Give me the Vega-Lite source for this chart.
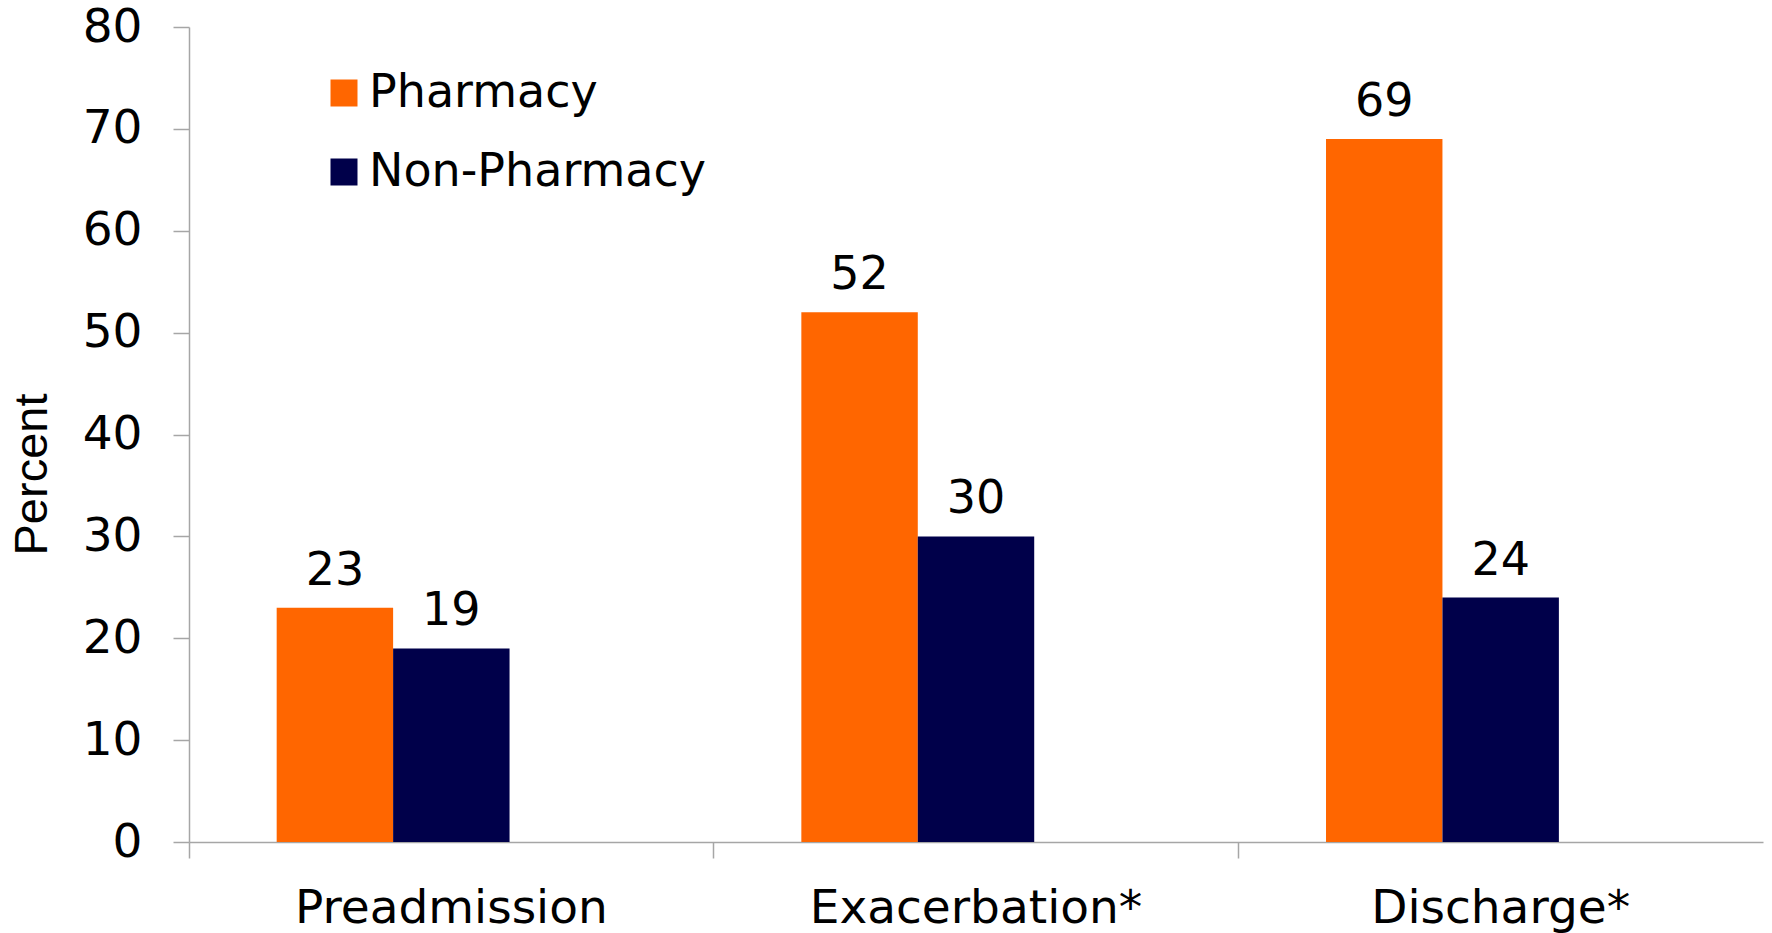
{
  "$schema": "https://vega.github.io/schema/vega-lite/v6.json",
  "width": 1574,
  "height": 815,
  "autosize": {"type": "none"},
  "padding": {"left": 189, "top": 27, "right": 9, "bottom": 91},
  "background": "white",
  "config": {
    "font": "DejaVu Sans",
    "view": {"stroke": null}
  },
  "data": {
    "values": [
      {"stage": "Preadmission", "series": "Pharmacy", "value": 23},
      {"stage": "Preadmission", "series": "Non-Pharmacy", "value": 19},
      {"stage": "Exacerbation*", "series": "Pharmacy", "value": 52},
      {"stage": "Exacerbation*", "series": "Non-Pharmacy", "value": 30},
      {"stage": "Discharge*", "series": "Pharmacy", "value": 69},
      {"stage": "Discharge*", "series": "Non-Pharmacy", "value": 24}
    ]
  },
  "encoding": {
    "x": {
      "field": "stage",
      "type": "nominal",
      "sort": ["Preadmission", "Exacerbation*", "Discharge*"],
      "scale": {"paddingInner": 0, "paddingOuter": 0},
      "axis": {
        "title": null,
        "bandPosition": 0,
        "labelAngle": 0,
        "labelFontSize": 47,
        "labelLimit": 0,
        "labelColor": "#000000",
        "labelPadding": 27,
        "labelBaseline": "top",
        "tickSize": 16,
        "tickColor": "#a6a6a6",
        "domainColor": "#a6a6a6",
        "tickWidth": 1.5,
        "domainWidth": 1.5,
        "grid": false
      }
    },
    "xOffset": {
      "field": "series",
      "type": "nominal",
      "scale": {"domain": ["Pharmacy", "Non-Pharmacy", "blank"], "paddingInner": 0, "paddingOuter": 0.753}
    },
    "y": {
      "field": "value",
      "type": "quantitative",
      "scale": {"domain": [0, 80], "nice": false},
      "axis": {
        "title": "Percent",
        "titleFont": "Liberation Sans",
        "titleFontSize": 47,
        "titleFontWeight": "normal",
        "titleColor": "#000000",
        "titleAngle": -90,
        "titleX": -157,
        "titleY": 447,
        "titleAlign": "center",
        "titleBaseline": "middle",
        "values": [0, 10, 20, 30, 40, 50, 60, 70, 80],
        "labelFontSize": 47,
        "labelColor": "#000000",
        "labelPadding": 31,
        "tickSize": 16,
        "tickColor": "#a6a6a6",
        "domainColor": "#a6a6a6",
        "tickWidth": 1.5,
        "domainWidth": 1.5,
        "grid": false
      }
    }
  },
  "layer": [
    {
      "mark": {"type": "bar"},
      "encoding": {
        "color": {
          "field": "series",
          "type": "nominal",
          "scale": {"domain": ["Pharmacy", "Non-Pharmacy"], "range": ["#ff6600", "#00004a"]},
          "legend": {
            "title": null,
            "orient": "none",
            "legendX": 132,
            "legendY": 43,
            "padding": 0,
            "symbolType": "square",
            "symbolSize": 729,
            "symbolStrokeWidth": 0,
            "labelFontSize": 46,
            "labelLimit": 0,
            "labelColor": "#000000",
            "labelOffset": 2,
            "rowPadding": 33
          }
        }
      }
    },
    {
      "mark": {"type": "text", "fontSize": 46, "color": "#000000", "baseline": "alphabetic", "dy": -23},
      "encoding": {
        "text": {"field": "value", "type": "quantitative"}
      }
    }
  ]
}
